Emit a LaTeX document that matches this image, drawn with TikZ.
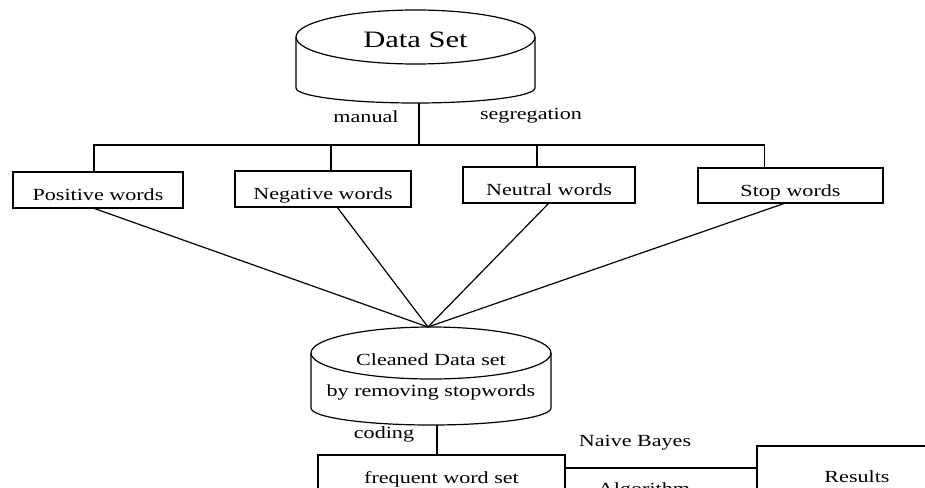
\documentclass[tikz,border=0pt]{standalone}
\usepackage{fontspec}
\setmainfont{Liberation Serif}[FakeStretch=1.3]
\usetikzlibrary{calc}

\begin{document}
\begin{tikzpicture}[x=1pt, y=-1pt, line width=1.2pt,
    every node/.style={font=\fontsize{17}{20.4}\selectfont},
    wordbox/.style={draw, minimum height=36pt, inner sep=0pt, outer sep=0pt, text height=21pt, text depth=0pt}]
    \clip (0,0) rectangle (925,487);

    % source data store
    \draw (415.5,37) ellipse[x radius=119.5, y radius=27];
    \draw (296,37) -- (296,88) arc[start angle=180, end angle=0, x radius=119.5, y radius=15] -- (535,37);
    \coordinate (dsbot) at (415.5,103);
    \node[font=\fontsize{23.5}{28}\selectfont] (dstitle) at (415.5,40) {Data Set};
    \node (manual) at (366,117) {manual};
    \node (segr) at (531,116) {segregation};

    % the four word lists
    \node[wordbox, minimum width=170pt] (pos) at (98,190) {Positive words};
    \node[wordbox, minimum width=176pt] (neg) at (323,189) {Negative words};
    \node[wordbox, minimum width=172pt] (neu) at (549,185) {Neutral words};
    \node[wordbox, minimum width=185pt, minimum height=35pt] (stop) at (790.5,185.5) {Stop words};

    % cleaned data store
    \draw (431,353) ellipse[x radius=120, y radius=26];
    \draw (311,353) -- (311,408) arc[start angle=180, end angle=0, x radius=120, y radius=17] -- (551,353);
    \coordinate (cdstop) at (428,327);
    \coordinate (cdsbot) at (431,425);
    \node[align=center] (cds) at (431,377) {Cleaned Data set\\[11pt]by removing stopwords};
    \node (coding) at (384,434) {coding};

    % classification
    \node[draw, minimum width=247pt, minimum height=44pt, text height=12pt, text depth=0pt] (fws) at (441.5,477) {frequent word set};
    \node[draw, minimum width=200pt, minimum height=60pt, text height=12pt, text depth=0pt] (res) at (857,476) {Results};
    \node (nb) at (635,443) {Naive Bayes};
    \node (algo) at (644,490) {Algorithm};

    \coordinate (split) at (419,145);
    \draw (dsbot -| split) -- (split);
    \draw ([xshift=-4pt]pos.north) |- (split) -| ([xshift=-26pt]stop.north);
    \draw ([xshift=8pt]neg.north) -- ([xshift=8pt]neg.north |- split);
    \draw ([xshift=-12pt]neu.north) -- ([xshift=-12pt]neu.north |- split);

    \foreach \w/\dx in {pos/-5, neg/14, neu/0, stop/-5}
        \draw ([xshift=\dx pt]\w.south) -- (cdstop);

    \draw ([xshift=6pt]cdsbot) -- ([xshift=6pt]cdsbot |- fws.north);
    \draw ([yshift=9pt]fws.east) -- ([yshift=9pt]fws.east -| res.west);
\end{tikzpicture}
\end{document}
